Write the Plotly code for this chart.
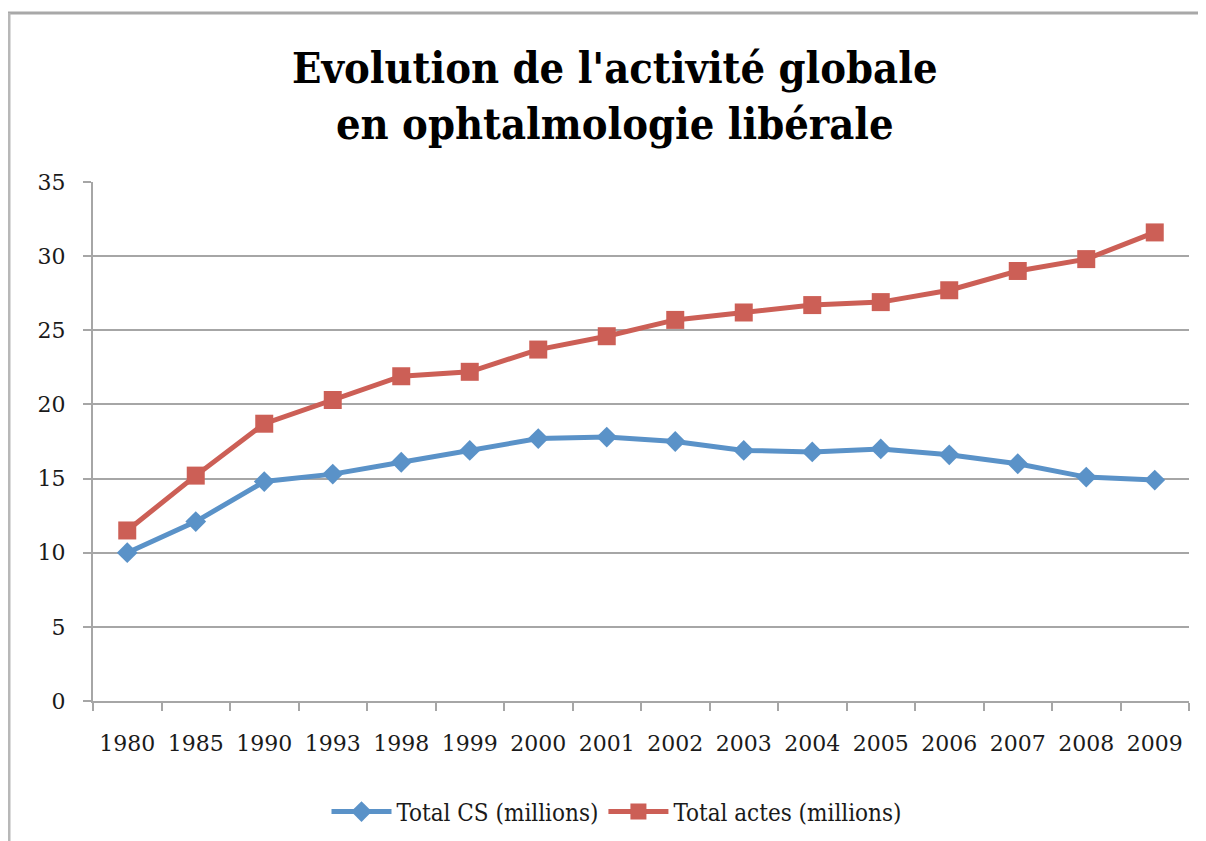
import plotly.graph_objects as go

years = ["1980", "1985", "1990", "1993", "1998", "1999", "2000", "2001",
         "2002", "2003", "2004", "2005", "2006", "2007", "2008", "2009"]
total_cs = [10.0, 12.1, 14.8, 15.3, 16.1, 16.9, 17.7, 17.8,
            17.5, 16.9, 16.8, 17.0, 16.6, 16.0, 15.1, 14.9]
total_actes = [11.5, 15.2, 18.7, 20.3, 21.9, 22.2, 23.7, 24.6,
               25.7, 26.2, 26.7, 26.9, 27.7, 29.0, 29.8, 31.6]

BLUE = "#5A92C8"
RED = "#CC5F56"
GRID = "#A6A6A6"
COND = "DejaVu Serif Condensed, Liberation Serif, serif"
SERIF = "DejaVu Serif, Liberation Serif, serif"

# page body adds an 8px offset, margins below compensate for it
W, H = 1206, 841
L, R, T, B = 85, 25, 174, 148
pw, ph = W - L - R, H - T - B


def px_x(x):
    return (x - L) / pw


def px_y(y):
    return (H - B - y) / ph


fig = go.Figure()
fig.add_trace(go.Scatter(
    x=years, y=total_cs, name="Total CS (millions)", mode="lines+markers",
    line=dict(color=BLUE, width=5),
    marker=dict(symbol="diamond", size=16, color=BLUE),
))
fig.add_trace(go.Scatter(
    x=years, y=total_actes, name="Total actes (millions)", mode="lines+markers",
    line=dict(color=RED, width=5),
    marker=dict(symbol="square", size=18, color=RED),
))

# outer chart frame (only top and left edges are visible)
fig.add_shape(type="line", xref="paper", yref="paper",
              x0=px_x(-4), x1=px_x(W + 10), y0=px_y(5), y1=px_y(5),
              line=dict(color="#A8A8A8", width=3))
fig.add_shape(type="line", xref="paper", yref="paper",
              x0=px_x(1), x1=px_x(1), y0=px_y(5), y1=px_y(H + 10),
              line=dict(color="#B8B8B8", width=3))

fig.add_annotation(
    text="<b>Evolution de l'activité globale<br>en ophtalmologie libérale</b>",
    xref="paper", yref="paper", x=px_x(606), y=px_y(88),
    xanchor="center", yanchor="middle", showarrow=False,
    font=dict(family=COND, size=43, color="black"),
)

fig.update_layout(
    width=W, height=H,
    margin=dict(l=L, r=R, t=T, b=B),
    paper_bgcolor="white",
    plot_bgcolor="white",
    font=dict(family=SERIF, size=22, color="#1a1a1a"),
    legend=dict(
        orientation="h", x=px_x(609), xanchor="center",
        y=px_y(804), yanchor="middle",
        font=dict(family=COND, size=24, color="#1a1a1a"),
        itemwidth=60,
    ),
)
fig.update_xaxes(
    type="category", tickson="boundaries", tickangle=0,
    range=[-0.5, len(years) - 0.5],
    showline=True, linecolor=GRID, linewidth=2,
    ticks="outside", ticklen=8, tickcolor=GRID, tickwidth=2,
    showgrid=False, tickfont=dict(size=22), ticklabelstandoff=22,
)
fig.update_yaxes(
    range=[0, 35], dtick=5,
    showline=True, linecolor=GRID, linewidth=2,
    ticks="outside", ticklen=8, tickcolor=GRID, tickwidth=2,
    showgrid=True, gridcolor=GRID, gridwidth=2, zeroline=False,
    tickfont=dict(size=22), ticklabelstandoff=13,
)

fig.write_html("out.html")
